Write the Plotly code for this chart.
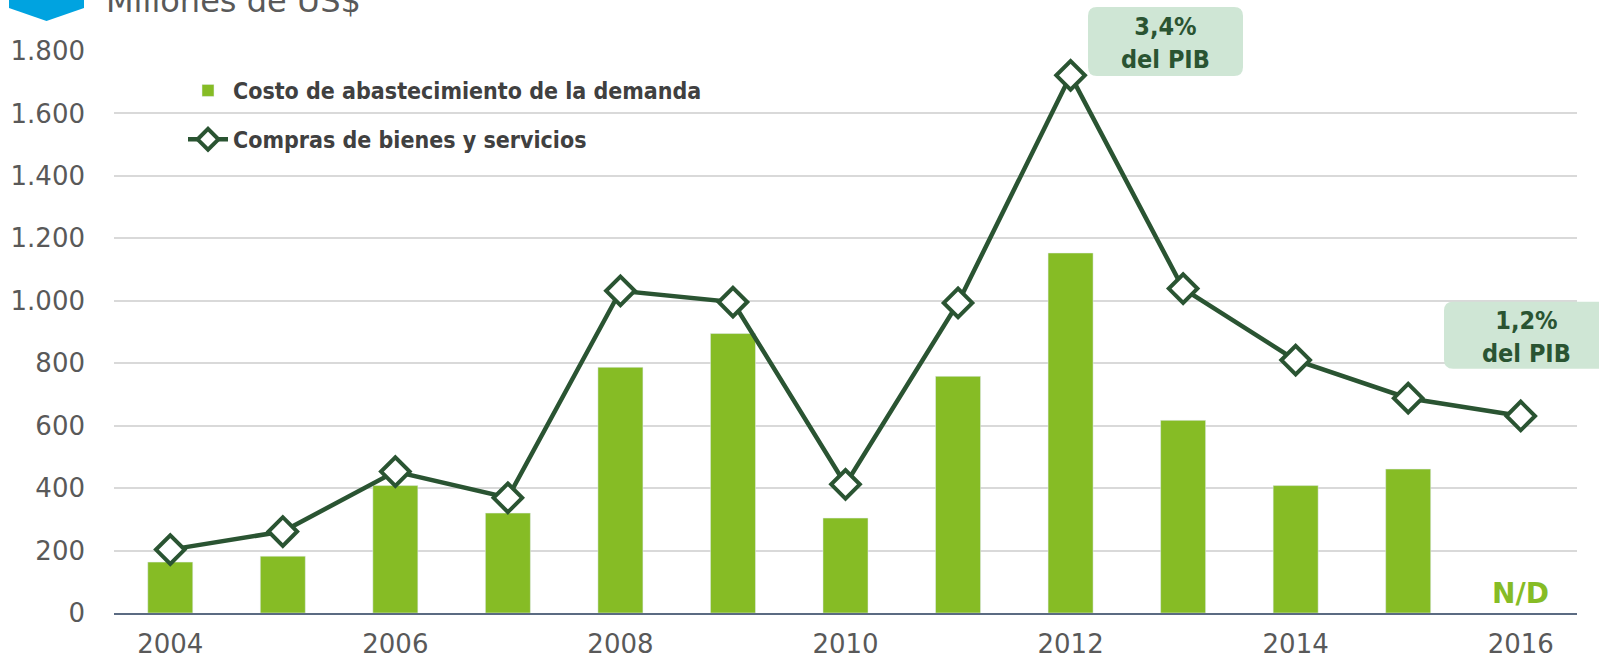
import plotly.graph_objects as go

years = [str(y) for y in range(2004, 2017)]
costo = [163, 182, 408, 320, 787, 895, 304, 758, 1153, 617, 408, 461, None]
compras = [203, 261, 453, 369, 1032, 996, 412, 993, 1722, 1039, 810, 688, 631]
tick_years = ["2004", "2006", "2008", "2010", "2012", "2014", "2016"]
y_ticks = [0, 200, 400, 600, 800, 1000, 1200, 1400, 1600, 1800]
y_ticktext = ["0", "200", "400", "600", "800", "1.000", "1.200", "1.400", "1.600", "1.800"]

W, H = 1599, 660
L, R, T, B = 114, 22, 51, 46.7
PW, PH = W - L - R, H - T - B

def px(x):
    return (x - L) / PW

def py(y):
    return (H - B - y) / PH

def rounded(x0, y0, x1, y1, r=9):
    X0, X1 = px(x0), px(x1)
    Y0, Y1 = py(y1), py(y0)
    rx, ry = r / PW, r / PH
    return (f"M{X0+rx},{Y0} L{X1-rx},{Y0} Q{X1},{Y0} {X1},{Y0+ry} L{X1},{Y1-ry} "
            f"Q{X1},{Y1} {X1-rx},{Y1} L{X0+rx},{Y1} Q{X0},{Y1} {X0},{Y1-ry} "
            f"L{X0},{Y0+ry} Q{X0},{Y0} {X0+rx},{Y0} Z")

BAR = "#86bc25"
LINE = "#2a5432"
TXT = "#595959"
BOXF = "#cfe6d5"

fig = go.Figure()
fig.add_trace(go.Bar(x=years, y=costo, name="<b>Costo de abastecimiento de la demanda</b>",
                     marker=dict(color=BAR), width=0.4, legendgroup="a"))
fig.add_trace(go.Scatter(x=years, y=compras, name="<b>Compras de bienes y servicios</b>",
                         mode="lines+markers", legendgroup="b",
                         line=dict(color=LINE, width=4.5),
                         marker=dict(symbol="diamond", size=22, color="white",
                                     line=dict(color=LINE, width=4))))

shapes = [
    dict(type="path", xref="paper", yref="paper", path=rounded(1088, 7, 1243, 76),
         fillcolor=BOXF, line=dict(width=0), layer="above"),
    dict(type="path", xref="paper", yref="paper", path=rounded(1444, 302, 1620, 369),
         fillcolor=BOXF, line=dict(width=0), layer="above"),
    dict(type="path", xref="paper", yref="paper",
         path=f"M{px(9)},{py(-10)} L{px(84)},{py(-10)} L{px(84)},{py(8)} L{px(46.5)},{py(21)} L{px(9)},{py(8)} Z",
         fillcolor="#00a3e0", line=dict(width=0)),
]

bold = "DejaVu Sans Condensed, DejaVu Sans"
annotations = [
    dict(xref="paper", yref="paper", x=px(1165), y=py(43), text="<b>3,4%<br>del PIB</b>",
         showarrow=False, font=dict(family=bold, size=25, color=LINE), xanchor="center", yanchor="middle"),
    dict(xref="paper", yref="paper", x=px(1526), y=py(337), text="<b>1,2%<br>del PIB</b>",
         showarrow=False, font=dict(family=bold, size=25, color=LINE), xanchor="center", yanchor="middle"),
    dict(x=12, y=62, text="<b>N/D</b>", showarrow=False,
         font=dict(family="DejaVu Sans", size=28, color=BAR), xanchor="center", yanchor="middle"),
    dict(xref="paper", yref="paper", x=px(104), y=py(1), text="Millones de US$",
         showarrow=False, font=dict(family="DejaVu Sans", size=32, color=TXT), xanchor="left", yanchor="middle"),
]

fig.update_layout(
    width=W, height=H,
    margin=dict(l=L, r=R, t=T, b=B, pad=0, autoexpand=False),
    plot_bgcolor="white", paper_bgcolor="white",
    font=dict(family="DejaVu Sans", size=26, color=TXT),
    shapes=shapes, annotations=annotations,
    showlegend=True,
    legend=dict(x=px(183), y=py(69), xanchor="left", yanchor="top",
                bgcolor="rgba(0,0,0,0)", font=dict(family=bold, size=23, color="#404040"),
                itemwidth=40, tracegroupgap=16, traceorder="grouped"),
    xaxis=dict(type="category", range=[-0.5, 12.5], tickmode="array", tickvals=tick_years,
               ticktext=tick_years, showgrid=False, showline=True, linecolor="#5b6b82", linewidth=2,
               ticks="", ticklabelstandoff=7, tickfont=dict(size=26, color=TXT), fixedrange=True,
               automargin=False),
    yaxis=dict(range=[0, 1800], tickvals=y_ticks, ticktext=y_ticktext, showgrid=True,
               gridcolor="#d9d9d9", gridwidth=2, zeroline=False, showline=False, ticks="",
               ticklabelstandoff=28, tickfont=dict(size=26, color=TXT), fixedrange=True,
               automargin=False),
    bargap=0.6,
)

fig.write_html("out.html", config={"displayModeBar": False},
               post_script="document.body.style.margin='0';")
